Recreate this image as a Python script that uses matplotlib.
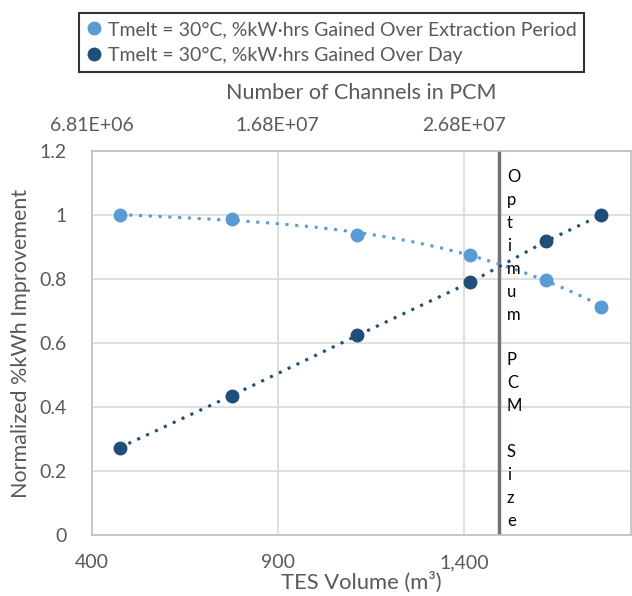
import numpy as np
import matplotlib
matplotlib.use("Agg")
import matplotlib.pyplot as plt
from matplotlib.ticker import FixedLocator, FuncFormatter

plt.rcParams["font.family"] = ["Lato", "DejaVu Sans"]

# data
tes_volume = [474, 776, 1114, 1418, 1621, 1770]
gain_extraction = [1.0, 0.989, 0.938, 0.876, 0.798, 0.713]
gain_day = [0.273, 0.436, 0.624, 0.790, 0.918, 1.0]
optimum_volume = 1494
x_ticks = [400, 900, 1400]
chan_ticks = [6.81e6, 1.68e7, 2.68e7]

LIGHT = "#5B9BD5"
DARK = "#1F4E79"
TXT = "#595959"

fig = plt.figure(figsize=(6.32, 5.96), dpi=100)
ax = fig.add_axes([0.1456, 0.1023, 0.8524, 0.6443])

# polynomial trendline for the extraction series, dotted line for the day series
coef = np.polyfit(tes_volume, gain_extraction, 3)
xs = np.linspace(tes_volume[0], tes_volume[-1], 200)
ax.plot(xs, np.polyval(coef, xs), ls=(0, (1, 2.2)), lw=2.2, color=LIGHT, zorder=3)
ax.plot(tes_volume, gain_day, ls=(0, (1, 2.2)), lw=2.2, color=DARK, zorder=3)
ax.plot(tes_volume, gain_extraction, "o", ms=9, color=LIGHT, zorder=4,
        label="Tmelt = 30°C, %kW·hrs Gained Over Extraction Period")
ax.plot(tes_volume, gain_day, "o", ms=9, color=DARK, zorder=4,
        label="Tmelt = 30°C, %kW·hrs Gained Over Day")

ax.axvline(optimum_volume, color="#767171", lw=2.5, zorder=2)
ax.text(optimum_volume + 22, 1.143, "\n".join("Optimum PCM Size"), va="top", ha="left",
        fontsize=12, linespacing=1.53, color="black")

ax.set_xlim(400, 1849)
ax.set_ylim(0, 1.2)
ax.set_xticks(x_ticks)
ax.xaxis.set_major_formatter(FuncFormatter(lambda v, p: f"{v:,.0f}"))
ax.set_yticks(np.arange(0, 1.21, 0.2))
ax.yaxis.set_major_formatter(FuncFormatter(lambda v, p: f"{v:g}"))
ax.grid(True, color="#D9D9D9", lw=1.2, zorder=0)
ax.set_axisbelow(True)
for s in ax.spines.values():
    s.set_color("#BFBFBF")
    s.set_linewidth(1.2)
ax.tick_params(length=0, labelsize=14, colors=TXT, pad=14)
ax.tick_params(axis="y", pad=18)
ax.set_xlabel("TES Volume (m³)", fontsize=15.8, color=TXT, labelpad=0)
ax.set_ylabel("Normalized %kWh Improvement", fontsize=15.5, color=TXT, labelpad=6)

top = ax.secondary_xaxis("top", functions=(lambda x: 6.81e6 + (x - 400) * 2e4,
                                           lambda c: 400 + (c - 6.81e6) / 2e4))
top.xaxis.set_major_locator(FixedLocator(chan_ticks))
top.xaxis.set_major_formatter(FuncFormatter(lambda v, p: f"{v:.2E}"))
top.tick_params(length=0, labelsize=14, colors=TXT, pad=12)
top.spines["top"].set_visible(False)
top.set_xlabel("Number of Channels in PCM", fontsize=15.5, color=TXT, labelpad=13)

leg = fig.legend(loc="center", bbox_to_anchor=(0.5245, 0.929), fontsize=14,
                 frameon=True, fancybox=False, edgecolor="black", handlelength=0.8,
                 handletextpad=0.3, borderpad=0.4, labelspacing=0.45, markerscale=1.0)
leg.get_frame().set_linewidth(1.5)
for t in leg.get_texts():
    t.set_color(TXT)

fig.savefig("out.png", dpi=100)
